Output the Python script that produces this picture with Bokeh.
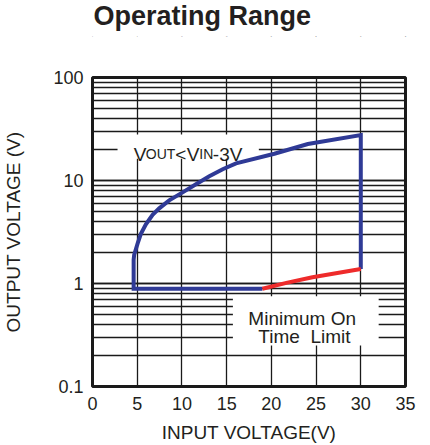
from bokeh.plotting import figure
from bokeh.models import Range1d, FixedTicker, Label, CustomJSTickFormatter, Title, LinearAxis
from bokeh.embed import file_html
from bokeh.resources import INLINE

# ---- data ----
x_ticks = [0, 5, 10, 15, 20, 25, 30, 35]

# blue boundary: bottom edge, left edge, Vout<Vin-3V curve, right edge
boundary_vin = [19.0, 4.6, 4.6, 4.66, 5.04, 5.41, 5.97, 6.72, 7.46, 8.58, 10.08,
                11.57, 13.06, 14.56, 16.05, 20.34, 24.08, 30.0, 30.0]
boundary_vout = [0.89, 0.89, 1.7, 1.90, 2.44, 3.03, 3.75, 4.65, 5.37, 6.41, 7.67,
                 9.18, 10.98, 12.86, 14.65, 18.2, 22.6, 27.6, 1.38]

# red minimum on-time limit
min_on_vin = [19.0, 21.8, 24.6, 30.0]
min_on_vout = [0.89, 1.02, 1.15, 1.38]

FONT = "Liberation Sans"
TXT = "#231f20"
GRID = "#1a1a1a"

p = figure(width=430, height=445,
           min_border_left=92, min_border_top=74, min_border_right=25, min_border_bottom=58,
           x_range=Range1d(0, 35), y_range=Range1d(0.1, 100), y_axis_type="log",
           output_backend="svg", toolbar_location=None,
           background_fill_color="white", border_fill_color="white")
p.title = None

# empty axis used as a spacer between the frame and the title
spacer = LinearAxis(ticker=FixedTicker(ticks=[]), major_tick_out=41, major_tick_in=0,
                    minor_tick_out=0, minor_tick_in=0, major_tick_line_color=None,
                    minor_tick_line_color=None, axis_line_color=None,
                    major_label_standoff=0, major_label_text_font_size="1px")
p.add_layout(spacer, "above")
p.add_layout(Title(text="Operating Range", text_font=FONT, text_font_size="27px",
                   text_font_style="bold", text_color=TXT, align="left",
                   vertical_align="top", standoff=0, offset=1), "above")

p.outline_line_color = GRID
p.outline_line_width = 3
p.outline_line_alpha = 1

p.xaxis[0].ticker = FixedTicker(ticks=x_ticks)
p.yaxis[0].formatter = CustomJSTickFormatter(code="return String(Number(tick.toPrecision(6)));")
for ax in (p.below[0], p.left[0]):
    ax.axis_line_color = None
    ax.major_tick_out = 0
    ax.major_tick_in = 0
    ax.minor_tick_out = 0
    ax.minor_tick_in = 0
    ax.major_label_text_font = FONT
    ax.major_label_text_font_size = "18px"
    ax.major_label_text_color = TXT
    ax.axis_label_text_font = FONT
    ax.axis_label_text_font_size = "19px"
    ax.axis_label_text_font_style = "normal"
    ax.axis_label_text_color = TXT

p.below[0].axis_label = "INPUT VOLTAGE(V)"
p.left[0].axis_label = "OUTPUT VOLTAGE (V)"
p.below[0].major_label_standoff = 10
p.below[0].axis_label_standoff = 9
p.left[0].major_label_standoff = 9
p.left[0].axis_label_standoff = 26

p.xgrid.grid_line_color = GRID
p.xgrid.grid_line_width = 1.3
p.ygrid.grid_line_color = GRID
p.ygrid.grid_line_width = 1.3
p.ygrid.minor_grid_line_color = GRID
p.ygrid.minor_grid_line_width = 1.3

# white label boxes covering the grid
p.quad(left=[2.8], right=[18.6], bottom=[16.3], top=[28.0],
       fill_color="white", line_color=None)
p.quad(left=[15.7], right=[32.0], bottom=[0.25], top=[0.75],
       fill_color="white", line_color=None)

p.line(boundary_vin, boundary_vout, line_color="#2f3a96", line_width=4, line_join="miter")
p.line(min_on_vin, min_on_vout, line_color="#ee2b2b", line_width=4)

# "VOUT<VIN-3V" with small caps
parts = [("V", 0, "19px"), ("OUT", 12, "14px"), ("<", 41.5, "19px"),
         ("V", 53, "19px"), ("IN", 65.5, "14px"), ("-3V", 79, "19px")]
for t, dx, fs in parts:
    p.add_layout(Label(x=4.62, y=18.0, x_offset=dx, text=t, text_font=FONT,
                       text_font_size=fs, text_color=TXT, text_baseline="alphabetic",
                       text_align="left"))

p.add_layout(Label(x=23.45, y=0.455, text="Minimum On", text_font=FONT,
                   text_font_size="19px", text_color=TXT, text_baseline="alphabetic",
                   text_align="center"))
p.add_layout(Label(x=23.7, y=0.303, text="Time \u00a0Limit", text_font=FONT,
                   text_font_size="19px", text_color=TXT, text_baseline="alphabetic",
                   text_align="center"))

open("out.html", "w").write(file_html(p, INLINE))
